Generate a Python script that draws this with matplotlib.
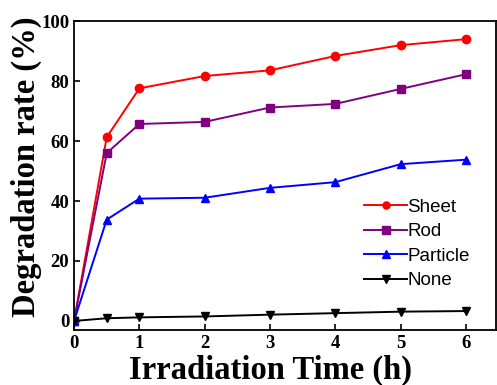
import matplotlib
matplotlib.use('Agg')
import matplotlib.pyplot as plt

# --- data ---
time_h = [0, 0.5, 1, 2, 3, 4, 5, 6]
sheet = [0, 61.3, 77.6, 81.7, 83.6, 88.4, 92.0, 94.0]
rod = [0, 56.0, 65.7, 66.4, 71.2, 72.4, 77.4, 82.3]
particle = [0, 33.8, 40.8, 41.1, 44.4, 46.3, 52.3, 53.8]
none = [0, 0.9, 1.2, 1.5, 2.1, 2.6, 3.1, 3.3]

x_ticks = [0, 1, 2, 3, 4, 5, 6]
y_ticks = [0, 20, 40, 60, 80, 100]

SERIF = 'Liberation Serif'
SANS = 'Liberation Sans'

fig = plt.figure(figsize=(4.97, 3.85), dpi=100)
ax = fig.add_axes([0.149, 0.143, 0.849, 0.802])

series = [
    ('Sheet', sheet, 'red', 'o'),
    ('Rod', rod, 'purple', 's'),
    ('Particle', particle, 'blue', '^'),
    ('None', none, 'black', 'v'),
]
for name, vals, col, mk in series:
    ax.plot(time_h, vals, color=col, marker=mk, markersize=6, linewidth=1.4, label=name)

ax.set_xlim(0, 6.46)
ax.set_ylim(-3, 100)
ax.set_xticks(x_ticks)
ax.set_yticks(y_ticks)
ax.tick_params(direction='in', length=4, width=1.2, labelsize=13.5)
for lbl in ax.get_xticklabels() + ax.get_yticklabels():
    lbl.set_fontfamily(SERIF)
    lbl.set_fontweight('bold')
for sp in ax.spines.values():
    sp.set_linewidth(1.3)

ax.set_xlabel('Irradiation Time (h)', fontsize=23.5, fontweight='bold', family=SERIF)
ax.xaxis.set_label_coords(0.465, -0.08, transform=ax.transAxes)
ax.xaxis.label.set_va('top')
ax.set_ylabel('Degradation rate (%)', fontsize=23.5, fontweight='bold', family=SERIF)
ax.yaxis.set_label_coords(-0.076, 0.53, transform=ax.transAxes)

leg = ax.legend(loc='upper left', bbox_to_anchor=(0.67, 0.45), frameon=False,
                prop={'family': SANS, 'size': 13.5}, handlelength=2.3,
                handletextpad=0.0, labelspacing=0.4, borderaxespad=0,
                markerscale=0.85)

fig.savefig('out.png', dpi=100)
